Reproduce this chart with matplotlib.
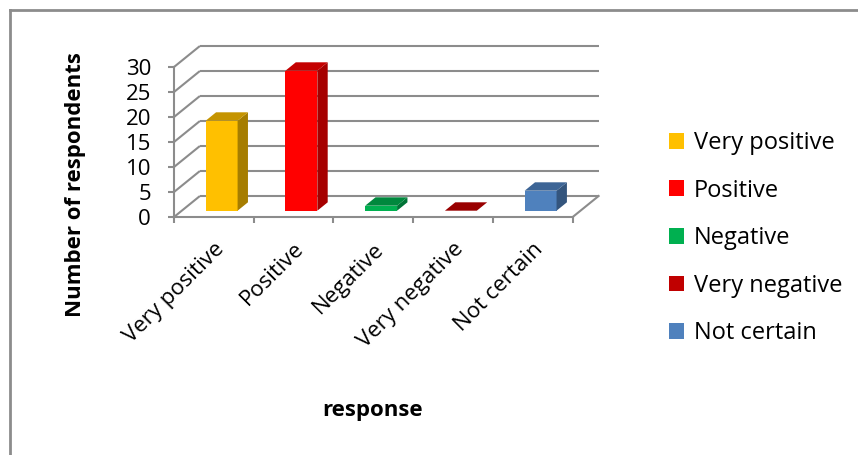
import matplotlib
matplotlib.use("Agg")
import matplotlib.pyplot as plt
from matplotlib.patches import Polygon, Patch
from matplotlib.lines import Line2D

# Survey responses
categories = ["Very positive", "Positive", "Negative", "Very negative", "Not certain"]
counts = [18, 28, 1, 0, 4]
y_ticks = [0, 5, 10, 15, 20, 25, 30]

front_colors = ["#FFC000", "#FF0000", "#00B050", "#C00000", "#4F81BD"]
side_colors = ["#A67D00", "#A60000", "#007336", "#7D0000", "#34557D"]
top_colors = ["#C59400", "#C40000", "#00883D", "#990000", "#3D6596"]

plt.rcParams["font.family"] = ["Open Sans", "DejaVu Sans"]

W, H = 858, 455
fig = plt.figure(figsize=(W / 100, H / 100), dpi=100)

# plot area (front plane) in pixels
x0_px, x1_px = 174, 572.7
y0_px, y1_px = 217, 67
ax = fig.add_axes([x0_px / W, 1 - y0_px / H, (x1_px - x0_px) / W, (y0_px - y1_px) / H])
n = len(categories)
ymax = y_ticks[-1]
ax.set_xlim(0, n)
ax.set_ylim(0, ymax)

# oblique depth of the floor / walls, in data units
depth_dx = 0.325
depth_dy = 4.2
grid_col = "#8C8C8C"
grid_lw = 1.5

# left wall and back wall gridlines
for v in y_ticks:
    ax.plot([0, depth_dx], [v, v + depth_dy], color=grid_col, lw=grid_lw,
            clip_on=False, zorder=1, solid_capstyle="butt")
    ax.plot([depth_dx, n + depth_dx], [v + depth_dy, v + depth_dy], color=grid_col,
            lw=grid_lw, clip_on=False, zorder=1, solid_capstyle="butt")
# right floor edge
ax.plot([n, n + depth_dx], [0, depth_dy], color=grid_col, lw=grid_lw, clip_on=False, zorder=1)

# 3D columns
bar_w = 0.4
d0, d1 = 0.3, 0.7
fx, fy = d0 * depth_dx, d0 * depth_dy
sx, sy = (d1 - d0) * depth_dx, (d1 - d0) * depth_dy
for i, v in enumerate(counts):
    left = i + 0.5 - bar_w / 2 + fx
    right = left + bar_w
    base = fy
    top = base + v
    front = Polygon([(left, base), (right, base), (right, top), (left, top)],
                    closed=True, facecolor=front_colors[i], edgecolor="none",
                    clip_on=False, zorder=5)
    side = Polygon([(right, base), (right + sx, base + sy), (right + sx, top + sy), (right, top)],
                   closed=True, facecolor=side_colors[i], edgecolor="none",
                   clip_on=False, zorder=5)
    cap = Polygon([(left, top), (right, top), (right + sx, top + sy), (left + sx, top + sy)],
                  closed=True, facecolor=top_colors[i], edgecolor="none",
                  clip_on=False, zorder=5)
    for p in (front, side, cap):
        ax.add_patch(p)

# axes styling
for s in ("top", "right"):
    ax.spines[s].set_visible(False)
for s in ("left", "bottom"):
    ax.spines[s].set_color(grid_col)
    ax.spines[s].set_linewidth(grid_lw)
    ax.spines[s].set_zorder(3)

ax.set_yticks(y_ticks)
ax.set_yticklabels([str(t) for t in y_ticks])
ax.tick_params(axis="y", direction="out", length=4.5, width=grid_lw, color=grid_col,
               labelsize=16, pad=12)

ax.set_xticks(range(n + 1))
ax.set_xticklabels([""] * (n + 1))
ax.tick_params(axis="x", which="major", direction="out", length=4.5, width=grid_lw,
               color=grid_col)
ax.set_xticks([i + 0.5 for i in range(n)], minor=True)
ax.set_xticklabels(categories, minor=True, rotation=45, ha="right",
                   rotation_mode="anchor", fontsize=16)
ax.tick_params(axis="x", which="minor", length=0, pad=15.5)

ax.set_ylabel("Number of respondents", fontsize=16, fontweight="bold")
ax.yaxis.set_label_coords(-0.221, 0.213)
ax.set_xlabel("response", fontsize=16, fontweight="bold")
ax.xaxis.set_label_coords(0.499, -1.287)
ax.xaxis.label.set_va("center")

# legend
handles = [Patch(facecolor=c, edgecolor="none") for c in front_colors]
fig.legend(handles, categories, loc="upper left",
           bbox_to_anchor=(669 / W, 1 - 131 / H), frameon=False, fontsize=17,
           handlelength=0.65, handleheight=0.65, handletextpad=0.4,
           labelspacing=1.0, borderaxespad=0, borderpad=0)

# chart frame (top and left edges)
fig.add_artist(Line2D([10 / W, 1], [1 - 10 / H, 1 - 10 / H], color="#8C8C8C", lw=2))
fig.add_artist(Line2D([10 / W, 10 / W], [0, 1 - 10 / H], color="#8C8C8C", lw=2))

fig.savefig("out.png", dpi=100, facecolor="white")
